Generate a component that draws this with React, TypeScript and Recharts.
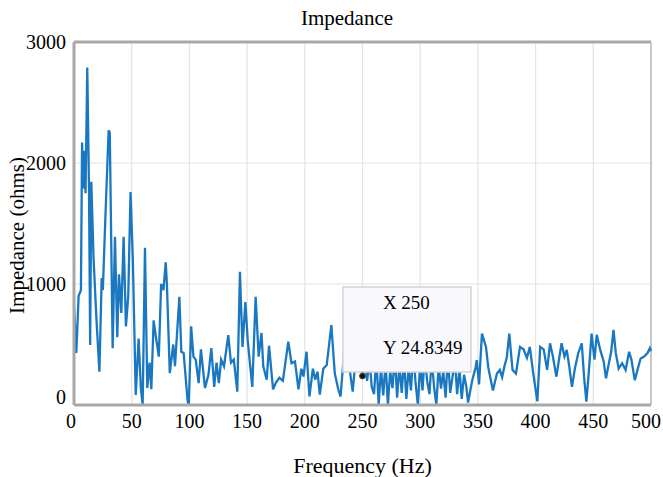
import React from 'react';
import {
  LineChart, Line, XAxis, YAxis, CartesianGrid, ReferenceLine, ReferenceArea, ReferenceDot, Label,
} from 'recharts';

const frequency = [
  0, 2, 4, 6, 7, 8, 9, 10, 11.5, 13, 14, 15, 17, 19.5, 22, 24, 25, 27, 30, 31, 33.5, 35.5, 37.5, 39, 41, 43, 45, 47, 49,
  51, 53.5, 56, 58, 59.5, 61.5, 63.5, 65.5, 67, 69, 71, 73.5, 75.5, 77.5, 79.5, 80.5, 83, 86, 87.5, 91.3, 93, 95, 98.5,
  99.5, 101.5, 103.5, 105.5, 108, 110, 113.5, 116.5, 119, 121.5, 123.5, 125.5, 127.5, 130, 133.7, 136, 138.5, 141.5,
  143.8, 146, 148.5, 150.5, 152, 154.5, 157.4, 160, 162.5, 164, 167, 169, 172.5, 175, 178, 181, 185.7, 188.5, 191.5,
  194.5, 197, 198.8, 201.5, 204, 207, 209, 211, 213, 216, 219, 223, 226, 229, 231, 235.7, 238.5, 241.5, 245, 248, 250,
  252, 254, 256, 258, 260, 262, 264, 266, 268, 270, 272, 274, 276, 278, 280, 282, 284, 286, 288, 290, 292, 294, 296,
  298, 300, 302, 304, 306, 308, 310, 312, 314, 316, 318, 320, 322, 324, 326, 328, 330, 332, 334, 336, 338, 340, 341.5,
  345, 348, 349, 351, 353.5, 357, 359, 363, 366.5, 369, 371, 373, 375, 377.2, 380, 383, 386.5, 389.5, 392.5, 395, 398,
  401.5, 404, 407, 410, 412.5, 415, 418, 422.5, 425, 427, 429, 431.5, 434, 437, 440, 442, 444, 446, 448.5, 451, 453,
  456, 459, 461, 463.5, 465.5, 467.5, 469.5, 472, 475, 478, 481, 483, 486, 489, 491, 494, 497, 499, 500,
];

const impedance = [
  820, 430, 900, 950, 2170, 1790, 2100, 1750, 2790, 1790, 495, 1845, 1200, 700, 275, 1050, 950, 1500, 2270, 2250, 470,
  1390, 560, 1080, 760, 1390, 650, 900, 1760, 1200, 83, 550, 130, 0, 1300, 140, 350, 130, 700, 560, 400, 1000, 950,
  1180, 1000, 264, 500, 320, 895, 440, 430, 30, 0, 650, 400, 375, 180, 460, 140, 250, 470, 150, 350, 180, 375, 320, 578,
  350, 375, 110, 1100, 480, 850, 540, 390, 150, 895, 400, 595, 320, 210, 490, 130, 185, 225, 200, 523, 345, 360, 130,
  300, 235, 440, 70, 300, 210, 275, 85, 300, 330, 660, 260, 130, 70, 633, 320, 110, 480, 480, 240, 420, 200, 380, 150,
  90, 400, 0, 300, 80, 350, 0, 280, 140, 420, 60, 330, 100, 380, 50, 310, 120, 450, 180, 0, 350, 120, 420, 200, 90, 380,
  150, 0, 330, 135, 280, 60, 400, 100, 230, 380, 90, 300, 50, 250, 150, 20, 200, 310, 370, 170, 590, 480, 310, 120, 260,
  290, 230, 320, 390, 590, 290, 260, 480, 460, 390, 480, 260, 30, 480, 460, 290, 510, 400, 234, 510, 400, 455, 330, 150,
  300, 430, 510, 234, 27, 260, 590, 375, 580, 455, 360, 220, 345, 440, 620, 430, 300, 345, 290, 440, 375, 205, 315, 385,
  400, 430, 470, 445,
];

const xTicks = [0, 50, 100, 150, 200, 250, 300, 350, 400, 450, 500];
const yTicks = [0, 1000, 2000, 3000];

const tipX = 250;
const tipY = 240;
const tipLabelX = 'X 250';
const tipLabelY = 'Y 24.8349';
const tipBox = { x1: 233, x2: 344, y1: 273, y2: 975 };

const data = frequency.map((f, i) => ({ f, z: impedance[i] }));

const FONT = '"Liberation Serif", "Times New Roman", serif';

const YTick = (props: any) => {
  const { x, y, payload } = props;
  return (
    <text x={x} y={y + (payload.value === 0 ? -8 : 0)} dy={7} textAnchor="end" fontFamily={FONT} fontSize={20} fill="#000">
      {payload.value}
    </text>
  );
};

const XTick = (props: any) => {
  const { x, y, payload } = props;
  const shift = payload.value === 500 ? -5 : payload.value === 0 ? -3 : 0;
  return (
    <text x={x + shift} y={y} dy={15} textAnchor="middle" fontFamily={FONT} fontSize={20} fill="#000">
      {payload.value}
    </text>
  );
};

const TipLabel = (props: any) => {
  const { viewBox } = props;
  const { x, y } = viewBox;
  return (
    <g>
      <text x={x + 40} y={y + 22} fontFamily={FONT} fontSize={19} fill="#000">{tipLabelX}</text>
      <text x={x + 40} y={y + 67} fontFamily={FONT} fontSize={19} fill="#000">{tipLabelY}</text>
    </g>
  );
};

const YLabel = (props: any) => {
  const { viewBox } = props;
  const cx = viewBox.x + 17;
  const cy = viewBox.y + viewBox.height / 2 + 12;
  return (
    <text x={cx} y={cy} transform={`rotate(-90 ${cx} ${cy})`} textAnchor="middle" dominantBaseline="central" fontFamily={FONT} fontSize={21} fill="#000">
      Impedance (ohms)
    </text>
  );
};

const XLabel = (props: any) => {
  const { viewBox } = props;
  const cx = viewBox.x + viewBox.width / 2;
  const cy = viewBox.y + 60;
  return (
    <text x={cx} y={cy} textAnchor="middle" dominantBaseline="central" fontFamily={FONT} fontSize={22} fill="#000">
      Frequency (Hz)
    </text>
  );
};

export default function App() {
  return (
    <div style={{ position: 'absolute', left: 0, top: 0, width: 663, height: 477, background: '#fff' }}>
      <div style={{ position: 'absolute', left: 347, top: 18, transform: 'translate(-50%, -50%)', fontFamily: FONT, fontSize: 21, whiteSpace: 'nowrap', color: '#000' }}>
        Impedance
      </div>
      <LineChart width={663} height={477} data={data} margin={{ top: 42, right: 12, left: 0, bottom: 42 }}>
        <CartesianGrid stroke="#e4e4e4" strokeWidth={1.2} />
        <XAxis
          dataKey="f"
          type="number"
          domain={[0, 500]}
          ticks={xTicks}
          interval={0}
          height={30}
          tick={<XTick />}
          tickLine={false}
          axisLine={{ stroke: '#a8a8a8', strokeWidth: 3 }}
        >
          <Label content={<XLabel />} />
        </XAxis>
        <YAxis
          type="number"
          domain={[0, 3000]}
          ticks={yTicks}
          interval={0}
          width={74}
          tick={<YTick />}
          tickLine={false}
          axisLine={{ stroke: '#a8a8a8', strokeWidth: 3 }}
        >
          <Label content={<YLabel />} />
        </YAxis>
        <ReferenceLine y={3000} stroke="#a8a8a8" strokeWidth={3} />
        <ReferenceLine x={500} stroke="#c8c8c8" strokeWidth={2} />
        <Line
          type="linear"
          dataKey="z"
          stroke="#1a78c2"
          strokeWidth={2.3}
          dot={false}
          isAnimationActive={false}
        />
        <ReferenceArea
          {...({ zIndex: 1000 } as any)}
          x1={tipBox.x1}
          x2={tipBox.x2}
          y1={tipBox.y1}
          y2={tipBox.y2}
          fill="#f9f9fd"
          fillOpacity={1}
          stroke="#d4d4d4"
          strokeWidth={1.5}
          label={<TipLabel />}
        />
        <ReferenceDot {...({ zIndex: 1100 } as any)} x={tipX} y={tipY} r={3} fill="#111" stroke="#555" />
      </LineChart>
    </div>
  );
}
